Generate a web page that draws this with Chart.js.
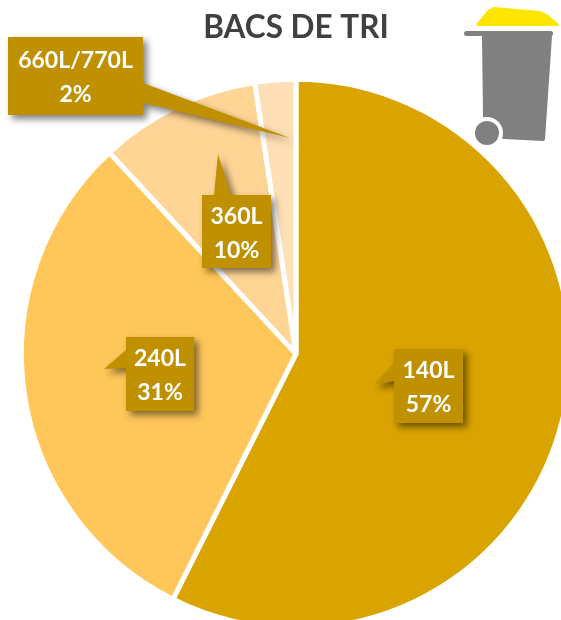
<!DOCTYPE html>
<html>
<head>
<meta charset="utf-8">
<style>
html, body { margin: 0; padding: 0; background: #fff; overflow: hidden; width: 561px; height: 620px; }
canvas { display: block; }
</style>
<script src="https://cdn.jsdelivr.net/npm/chart.js@4"></script>
</head>
<body>
<canvas id="chart_bacs" width="592" height="631"></canvas>
<script>
var categories = ['140L', '240L', '360L', '660L/770L'];
var shares = [57.4, 30.7, 9.5, 2.4];
var sliceColors = ['#DAA400', '#FFC65A', '#FFD596', '#FEDFB6'];
var chartTitle = 'BACS DE TRI';

// callout boxes, same order as the categories
var callouts = [
	{box: [394, 349, 69, 74], tail: [[394, 363], [374, 385], [394, 381]]},
	{box: [126, 337, 68, 74], tail: [[126, 350], [104, 369], [126, 368]]},
	{box: [202, 195, 69, 73], tail: [[214, 195], [218, 154], [231, 195]]},
	{box: [8, 37, 135, 78], tail: [[143, 83], [290, 138], [143, 103]]}
];

function path(ctx, pts) {
	pts.forEach(function(p, i) {
		i == 0 ? ctx.moveTo(p[0], p[1]) : ctx.lineTo(p[0], p[1]);
	});
	ctx.closePath();
}

function drawBin(ctx) {
	ctx.save();
	ctx.lineJoin = 'round';
	ctx.lineCap = 'round';

	// lid
	ctx.fillStyle = ctx.strokeStyle = '#FFE600';
	ctx.lineWidth = 3;
	ctx.beginPath();
	path(ctx, [[478, 24.5], [489, 11], [494, 8.5], [540, 12.5], [547, 16], [557, 24.5]]);
	ctx.fill();
	ctx.stroke();

	// body
	ctx.fillStyle = ctx.strokeStyle = '#808080';
	ctx.lineWidth = 5;
	ctx.beginPath();
	ctx.moveTo(466.5, 33.5);
	ctx.lineTo(550.5, 33.5);
	ctx.stroke();
	ctx.lineWidth = 4;
	ctx.beginPath();
	path(ctx, [[484, 36], [550, 36], [543, 139], [504, 137], [485, 118]]);
	ctx.fill();
	ctx.stroke();

	// wheel
	ctx.fillStyle = '#fff';
	ctx.beginPath();
	ctx.arc(487, 133, 16, 0, Math.PI * 2);
	ctx.fill();
	ctx.fillStyle = '#808080';
	ctx.beginPath();
	ctx.arc(487, 133, 12, 0, Math.PI * 2);
	ctx.fill();
	ctx.restore();
}

function drawCallout(ctx, c, i) {
	var b = c.box;
	ctx.save();
	ctx.shadowColor = 'rgba(0,0,0,0.5)';
	ctx.shadowBlur = 7;
	ctx.shadowOffsetX = 4;
	ctx.shadowOffsetY = 4;
	ctx.fillStyle = '#BF9000';
	ctx.beginPath();
	ctx.rect(b[0], b[1], b[2], b[3]);
	path(ctx, c.tail);
	ctx.fill();

	ctx.shadowColor = 'transparent';
	ctx.fillStyle = '#fff';
	ctx.font = 'bold 23px Lato';
	ctx.textAlign = 'center';
	ctx.textBaseline = 'middle';
	var cx = b[0] + b[2] / 2;
	var cy = b[1] + b[3] / 2;
	ctx.fillText(categories[i], cx, cy - 15);
	ctx.fillText(Math.round(shares[i]) + '%', cx, cy + 19);
	ctx.restore();
}

var decorations = {
	id: 'decorations',
	afterDraw: function(chart) {
		drawBin(chart.ctx);
		callouts.forEach(function(c, i) {
			drawCallout(chart.ctx, c, i);
		});
	}
};

var ctx_b = document.getElementById('chart_bacs').getContext('2d');

var chart_b = new Chart(ctx_b, {
	type: 'pie',
	data: {
		labels: categories,
		datasets: [{
			data: shares,
			backgroundColor: sliceColors,
			borderColor: '#fff',
			borderWidth: 5
		}]
	},
	options: {
		responsive: false,
		animation: false,
		plugins: {
			legend: {display: false},
			tooltip: {enabled: false},
			title: {
				display: true,
				text: chartTitle,
				color: '#404040',
				font: {family: 'Lato', size: 31.5, weight: 'bold'},
				padding: {top: 9, bottom: 30}
			}
		}
	},
	plugins: [decorations]
});
</script>
</body>
</html>
